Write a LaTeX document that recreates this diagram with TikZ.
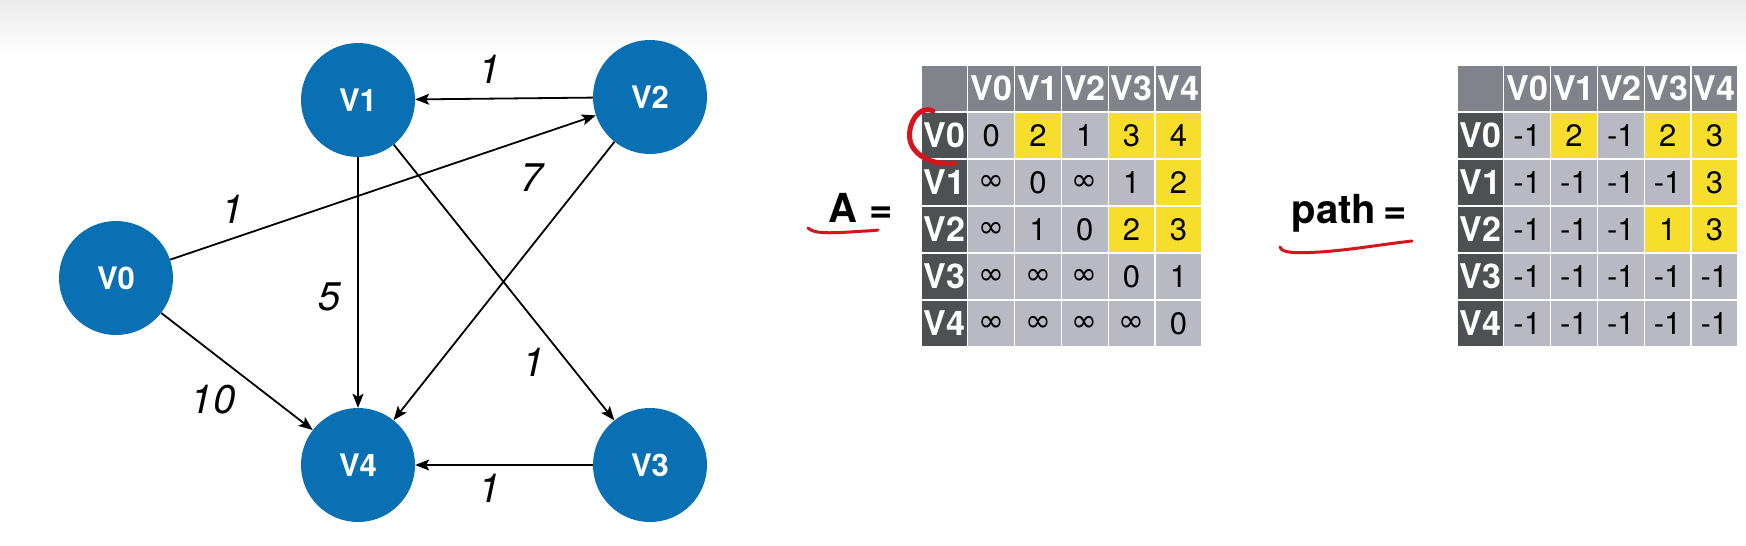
\documentclass[tikz,border=0pt]{standalone}
\usepackage{fontspec}
\setmainfont{TeX Gyre Heros}
\newfontfamily\dvfont{DejaVu Sans}
\usetikzlibrary{arrows.meta}
\definecolor{nodeblue}{RGB}{10,112,180}
\definecolor{hdrgray}{RGB}{128,131,137}
\definecolor{rowgray}{RGB}{78,80,84}
\definecolor{cellgray}{RGB}{185,185,196}
\definecolor{cellyellow}{RGB}{248,222,44}
\definecolor{penred}{RGB}{215,20,28}
\newcommand\myinf{{\dvfont\fontsize{31}{31}\selectfont ∞}}
\tikzset{
  vertex/.style={circle, fill=nodeblue, minimum size=114pt, inner sep=0pt, text=white, font=\fontsize{31}{31}\selectfont\bfseries},
  edge/.style={line width=1.8pt, -{Stealth[length=14pt,width=11pt,inset=3pt]}},
  wlabel/.style={font=\fontsize{40}{40}\selectfont\itshape, inner sep=0pt},
  cell/.style={minimum width=46.8pt, minimum height=47pt, inner sep=0pt, draw=white, line width=1.2pt, font=\fontsize{31}{31}\selectfont},
  hdr/.style={cell, fill=hdrgray, text=white, font=\fontsize{34}{34}\selectfont\bfseries},
  rowhdr/.style={hdr, fill=rowgray},
  dat/.style={cell, fill=cellgray},
  hl/.style={cell, fill=cellyellow},
  biglabel/.style={font=\fontsize{40}{40}\selectfont\bfseries, inner sep=0pt, anchor=base},
  pen/.style={draw=penred, line cap=round, line join=round}
}
\begin{document}
\begin{tikzpicture}[x=1pt, y=-1pt]
\useasboundingbox (0,0) rectangle (1746,546);
\fill[white] (0,0) rectangle (1746,546);
\shade[top color=black!8, bottom color=white] (0,0) rectangle (1746,55);

% graph
\node[vertex] (V0) at (116,278) {V0};
\node[vertex] (V1) at (358,100) {V1};
\node[vertex] (V2) at (650,97) {V2};
\node[vertex] (V3) at (650,465) {V3};
\node[vertex] (V4) at (358,465) {V4};

\draw[edge] (V2) -- (V1);
\draw[edge] (V0) -- (V2);
\draw[edge] (V1) -- (V4);
\draw[edge] (V1) -- (V3);
\draw[edge] (V2) -- (V4);
\draw[edge] (V0) -- (V4);
\draw[edge] (V3) -- (V4);

\node[wlabel] (w21) at (490,69) {1};
\node[wlabel] (w02) at (233,209) {1};
\node[wlabel] (w24) at (532,178) {7};
\node[wlabel] (w14) at (330,297) {5};
\node[wlabel] (w13) at (534,362) {1};
\node[wlabel] (w04) at (213,400) {10};
\node[wlabel] (w34) at (490,488) {1};

% A label
\node[biglabel] (Alab) at (843,222) {A};
\node[biglabel] (Aeq) at (881,222) {=};
\draw[pen, line width=3pt] (808,228) .. controls (814,234) and (830,233) .. (850,232) .. controls (862,231) and (872,231) .. (878,230);

% matrix A
\node[hdr] (A-corner) at (944.4,88.5) {};
\foreach \c/\lab in {1/V0,2/V1,3/V2,4/V3,5/V4}
  \node[hdr] (A-h\c) at ({921+46.8*(\c+0.5)},88.5) {\lab};
\foreach \r/\lab in {1/V0,2/V1,3/V2,4/V3,5/V4}
  \node[rowhdr] (A-r\r) at (944.4,{65+47*(\r+0.5)}) {\lab};
\foreach \r/\c/\v/\s in {
  1/1/0/dat,1/2/2/hl,1/3/1/dat,1/4/3/hl,1/5/4/hl,
  2/1/\myinf/dat,2/2/0/dat,2/3/\myinf/dat,2/4/1/dat,2/5/2/hl,
  3/1/\myinf/dat,3/2/1/dat,3/3/0/dat,3/4/2/hl,3/5/3/hl,
  4/1/\myinf/dat,4/2/\myinf/dat,4/3/\myinf/dat,4/4/0/dat,4/5/1/dat,
  5/1/\myinf/dat,5/2/\myinf/dat,5/3/\myinf/dat,5/4/\myinf/dat,5/5/0/dat}
  \node[\s] (A-\r-\c) at ({921+46.8*(\c+0.5)},{65+47*(\r+0.5)}) {\v};

\draw[pen, line width=5pt] (933,111) .. controls (918,104) and (907,126) .. (910,140) .. controls (913,156) and (934,166) .. (955,163);

% path label
\node[biglabel] (Plab) at (1334,223) {path};
\node[biglabel] (Peq) at (1395,223) {=};
\draw[pen, line width=3pt] (1280,247) .. controls (1282,254) and (1300,253) .. (1320,252) .. controls (1350,250) and (1385,244) .. (1412,241);

% matrix path
\node[hdr] (P-corner) at (1480.4,88.5) {};
\foreach \c/\lab in {1/V0,2/V1,3/V2,4/V3,5/V4}
  \node[hdr] (P-h\c) at ({1457+46.8*(\c+0.5)},88.5) {\lab};
\foreach \r/\lab in {1/V0,2/V1,3/V2,4/V3,5/V4}
  \node[rowhdr] (P-r\r) at (1480.4,{65+47*(\r+0.5)}) {\lab};
\foreach \r/\c/\v/\s in {
  1/1/-1/dat,1/2/2/hl,1/3/-1/dat,1/4/2/hl,1/5/3/hl,
  2/1/-1/dat,2/2/-1/dat,2/3/-1/dat,2/4/-1/dat,2/5/3/hl,
  3/1/-1/dat,3/2/-1/dat,3/3/-1/dat,3/4/1/hl,3/5/3/hl,
  4/1/-1/dat,4/2/-1/dat,4/3/-1/dat,4/4/-1/dat,4/5/-1/dat,
  5/1/-1/dat,5/2/-1/dat,5/3/-1/dat,5/4/-1/dat,5/5/-1/dat}
  \node[\s] (P-\r-\c) at ({1457+46.8*(\c+0.5)},{65+47*(\r+0.5)}) {\v};
\end{tikzpicture}
\end{document}
